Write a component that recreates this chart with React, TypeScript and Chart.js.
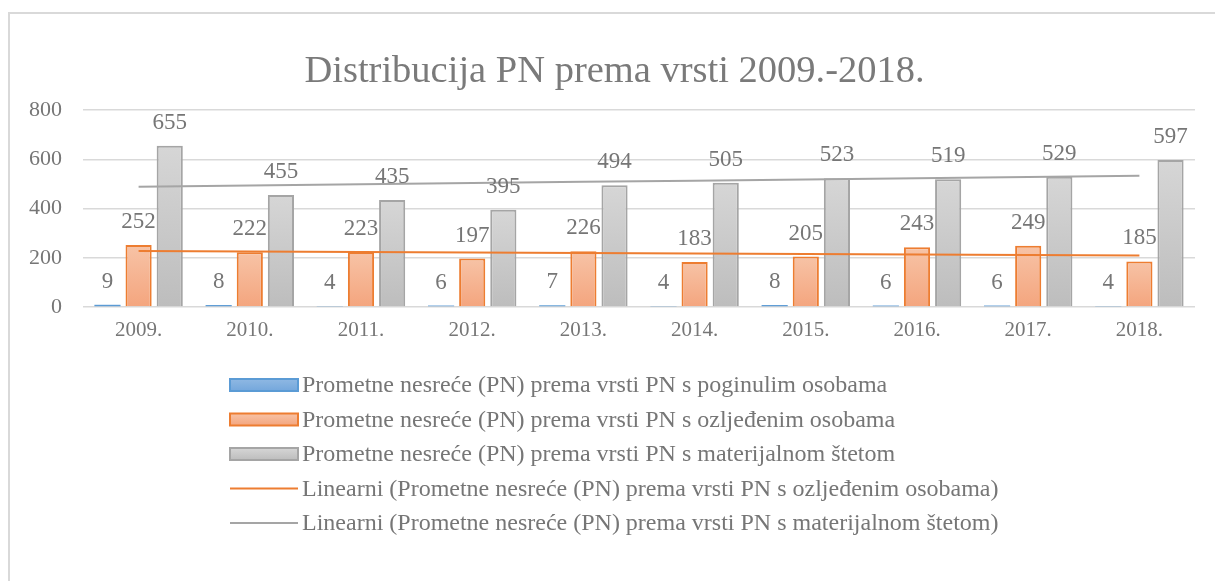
import React, { useEffect, useRef } from "react";
import { Chart, registerables } from "chart.js";

Chart.register(...registerables);

const titleText = "Distribucija PN prema vrsti 2009.-2018.";
const years = ["2009.", "2010.", "2011.", "2012.", "2013.", "2014.", "2015.", "2016.", "2017.", "2018."];
const killed = [9, 8, 4, 6, 7, 4, 8, 6, 6, 4];
const injured = [252, 222, 223, 197, 226, 183, 205, 243, 249, 185];
const damage = [655, 455, 435, 395, 494, 505, 523, 519, 529, 597];
const yTicks = [0, 200, 400, 600, 800];
const barNames = [
  "Prometne nesreće (PN) prema vrsti PN s poginulim osobama",
  "Prometne nesreće (PN) prema vrsti PN s ozljeđenim osobama",
  "Prometne nesreće (PN) prema vrsti PN s materijalnom štetom",
];
const trendNames = [
  "Linearni (Prometne nesreće (PN) prema vrsti PN s ozljeđenim osobama)",
  "Linearni (Prometne nesreće (PN) prema vrsti PN s materijalnom štetom)",
];

// Least-squares linear trend (as the spreadsheet trendline does)
function linearTrend(v: number[]): number[] {
  const n = v.length;
  const xs = v.map((_, i) => i + 1);
  const mx = xs.reduce((a, b) => a + b, 0) / n;
  const my = v.reduce((a, b) => a + b, 0) / n;
  let num = 0;
  let den = 0;
  for (let i = 0; i < n; i++) {
    num += (xs[i] - mx) * (v[i] - my);
    den += (xs[i] - mx) * (xs[i] - mx);
  }
  const slope = num / den;
  const icpt = my - slope * mx;
  return xs.map((x) => icpt + slope * x);
}

const FONT = "'Liberation Serif', 'Times New Roman', serif";
const TEXT = "#767676";

const barStyles = [
  { top: "#8fb8e3", bottom: "#74a7dc", border: "#5b9bd5" },
  { top: "#f7c3a6", bottom: "#f4a57e", border: "#ed7d31" },
  { top: "#d6d6d6", bottom: "#bdbdbd", border: "#a5a5a5" },
];
const trendColors = ["#ed7d31", "#a5a5a5"];

function barGradient(idx: number) {
  return (ctx: any) => {
    const st = barStyles[idx];
    const chart = ctx.chart;
    if (!chart.chartArea || !chart.scales || !chart.scales.y) return st.top;
    const v = ctx.raw;
    if (typeof v !== "number") return st.top;
    const y = chart.scales.y;
    const yt = y.getPixelForValue(v);
    const yb = y.getPixelForValue(0);
    if (yb - yt < 5) return st.border;
    const g = chart.ctx.createLinearGradient(0, yt, 0, yb);
    g.addColorStop(0, st.top);
    g.addColorStop(1, st.bottom);
    return g;
  };
}

const titleDraw = {
  id: "titleDraw",
  afterDraw(chart: any) {
    const c = chart.ctx;
    c.save();
    c.font = `38.5px ${FONT}`;
    c.fillStyle = "#7a7a7a";
    c.textAlign = "center";
    c.textBaseline = "middle";
    c.fillText(titleText, chart.width / 2 + 2, 58);
    c.restore();
  },
};

const valueLabels = {
  id: "valueLabels",
  afterDatasetsDraw(chart: any) {
    const c = chart.ctx;
    c.save();
    c.font = `23px ${FONT}`;
    c.fillStyle = TEXT;
    c.textAlign = "center";
    c.textBaseline = "middle";
    for (let d = 0; d < 3; d++) {
      const meta = chart.getDatasetMeta(d);
      const data = chart.data.datasets[d].data as number[];
      meta.data.forEach((el: any, i: number) => {
        c.fillText(String(data[i]), el.x, el.y - 23);
      });
    }
    c.restore();
  },
};

const customLegend = {
  id: "customLegend",
  afterDraw(chart: any) {
    const c = chart.ctx;
    c.save();
    c.font = `24px ${FONT}`;
    const names = [...barNames, ...trendNames];
    const boxW = 68;
    const gap = 4;
    const x0 = chart.chartArea.left + 147;
    const y0 = chart.chartArea.bottom + 78;
    const step = 34.5;
    names.forEach((n, i) => {
      const yc = y0 + i * step;
      if (i < 3) {
        const st = barStyles[i];
        const g = c.createLinearGradient(0, yc - 6, 0, yc + 6);
        g.addColorStop(0, st.top);
        g.addColorStop(1, st.bottom);
        c.fillStyle = g;
        c.fillRect(x0, yc - 6, boxW, 12);
        c.strokeStyle = st.border;
        c.lineWidth = 2;
        c.strokeRect(x0, yc - 6, boxW, 12);
      } else {
        c.strokeStyle = trendColors[i - 3];
        c.lineWidth = 2;
        c.beginPath();
        c.moveTo(x0, yc);
        c.lineTo(x0 + boxW, yc);
        c.stroke();
      }
      c.fillStyle = TEXT;
      c.textAlign = "left";
      c.textBaseline = "middle";
      c.fillText(n, x0 + boxW + gap, yc + 1);
    });
    c.restore();
  },
};

export default function App() {
  const ref = useRef<HTMLCanvasElement | null>(null);
  useEffect(() => {
    if (!ref.current) return;
    const chart = new Chart(ref.current, {
      type: "bar",
      data: {
        labels: years,
        datasets: [
          ...[killed, injured, damage].map((d, i) => ({
            type: "bar" as const,
            label: barNames[i],
            data: d,
            backgroundColor: barGradient(i),
            borderColor: barStyles[i].border,
            borderWidth: i === 0 ? 0 : 2,
            categoryPercentage: 0.84,
            barPercentage: 0.84,
            order: 1,
          })),
          ...[injured, damage].map((d, i) => ({
            type: "line" as const,
            label: trendNames[i],
            data: linearTrend(d),
            borderColor: trendColors[i],
            borderWidth: 2,
            pointRadius: 0,
            fill: false,
            tension: 0,
            order: 0,
          })),
        ],
      } as any,
      options: {
        animation: false,
        responsive: true,
        maintainAspectRatio: false,
        layout: { padding: { left: 0, right: 20, top: 96, bottom: 234 } },
        plugins: {
          legend: { display: false },
          tooltip: { enabled: false },
          title: { display: false },
        },
        scales: {
          x: {
            grid: { display: false, drawTicks: false },
            border: { display: false },
            ticks: { color: TEXT, font: { family: FONT, size: 21 }, padding: 11 },
            afterFit: (s: any) => {
              s.height = 40;
            },
          },
          y: {
            min: 0,
            max: 800,
            grid: { color: "#d9d9d9", lineWidth: 1.5, drawTicks: false },
            border: { display: false },
            ticks: { color: TEXT, font: { family: FONT, size: 22 }, padding: 21 },
            afterBuildTicks: (s: any) => {
              s.ticks = yTicks.map((v) => ({ value: v }));
            },
            afterFit: (s: any) => {
              s.width = 73;
            },
          },
        },
      } as any,
      plugins: [titleDraw, valueLabels, customLegend],
    });
    return () => chart.destroy();
  }, []);

  return (
    <div
      style={{
        position: "fixed",
        left: 8,
        top: 12,
        width: 1207,
        height: 569,
        borderTop: "2px solid #d9d9d9",
        borderLeft: "2px solid #d9d9d9",
        boxSizing: "border-box",
        background: "#fff",
      }}
    >
      <div style={{ position: "relative", width: 1205, height: 567 }}>
        <canvas ref={ref} />
      </div>
    </div>
  );
}
